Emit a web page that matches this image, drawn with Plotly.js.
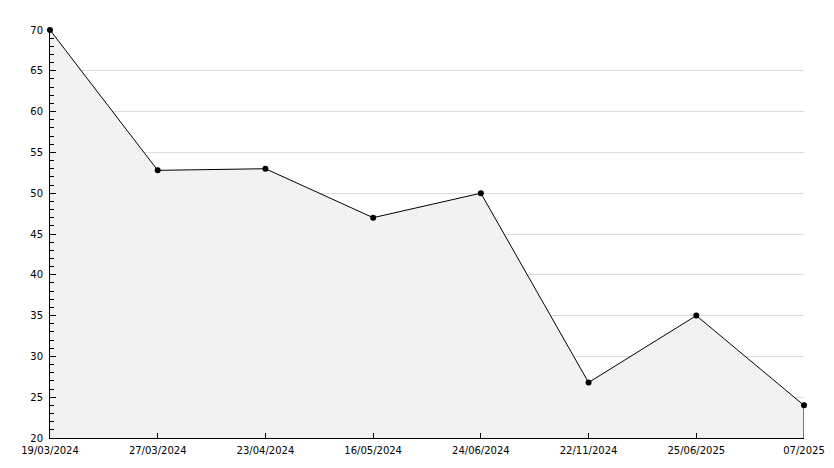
<!DOCTYPE html>
<html>
<head>
<meta charset="utf-8">
<script src="https://cdn.plot.ly/plotly-3.0.1.min.js"></script>
<style>html,body{margin:0;padding:0;background:#fff;}#chart{width:834px;height:468px;}</style>
</head>
<body>
<div id="chart"></div>
<script>
const dates = ["19/03/2024","27/03/2024","23/04/2024","16/05/2024","24/06/2024","22/11/2024","25/06/2025","07/2025"];
const values = [70, 52.8, 53, 47, 50, 26.8, 35, 24];
const yMin = 20, yMax = 70;

const font = {family: "DejaVu Sans", size: 10, color: "#000"};

const traces = [
  {
    x: dates, y: values, type: "scatter", mode: "lines+markers",
    fill: "tozeroy", fillcolor: "#f2f2f2",
    line: {color: "#000", width: 1},
    marker: {color: "#000", size: 6, symbol: "circle"},
    cliponaxis: false,
    hoverinfo: "x+y"
  },
  {
    x: [dates[dates.length-1], dates[dates.length-1]],
    y: [values[values.length-1], yMin],
    type: "scatter", mode: "lines",
    line: {color: "#000", width: 1}, hoverinfo: "skip"
  }
];

const layout = {
  width: 834, height: 468,
  margin: {l: 50, r: 30, t: 30, b: 30},
  paper_bgcolor: "#fff", plot_bgcolor: "#fff",
  showlegend: false,
  font: font,
  xaxis: {
    type: "category", range: [0, dates.length-1],
    showgrid: false, zeroline: false,
    showline: true, linecolor: "#000", linewidth: 1,
    ticks: "inside", ticklen: 5, tickcolor: "#000",
    ticklabelstandoff: 3,
    tickfont: font
  },
  yaxis: {
    range: [yMin, yMax], dtick: 5, tick0: 20,
    showgrid: true, gridcolor: "#dcdcdc", gridwidth: 1,
    zeroline: false,
    showline: true, linecolor: "#000", linewidth: 1,
    ticks: "inside", ticklen: 6, tickcolor: "#000",
    ticklabelstandoff: 4,
    minor: {dtick: 1, ticks: "inside", ticklen: 4, tickcolor: "#000", showgrid: false},
    tickfont: font
  }
};

Plotly.newPlot("chart", traces, layout, {displayModeBar: false, staticPlot: true});
</script>
</body>
</html>
